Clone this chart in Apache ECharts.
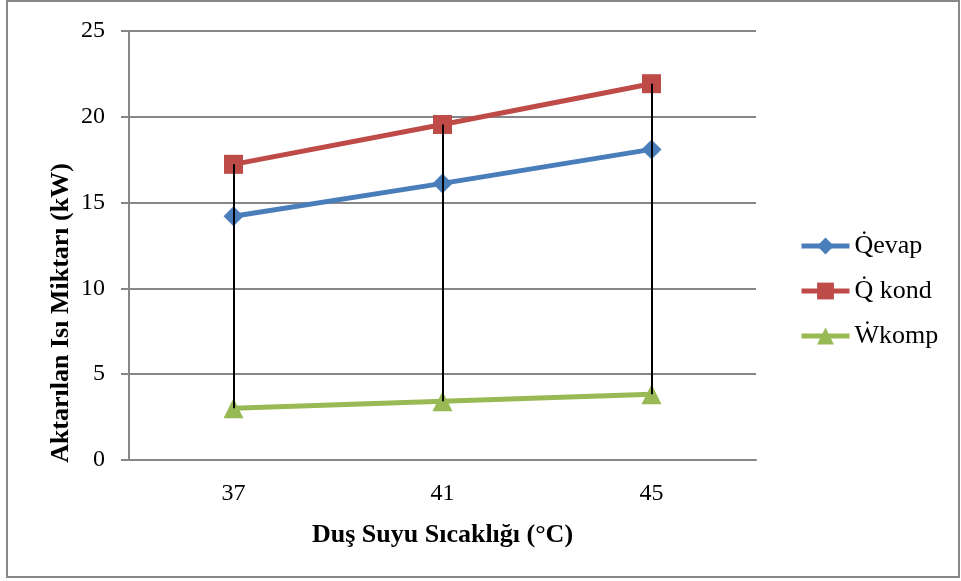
<!DOCTYPE html>
<html>
<head>
<meta charset="utf-8">
<script src="https://cdn.jsdelivr.net/npm/echarts@6/dist/echarts.min.js"></script>
<style>
  html, body { margin: 0; padding: 0; background: #fff; }
  #chart { width: 961px; height: 581px; }
</style>
</head>
<body>
<div id="chart"></div>
<script>
// Shower water temperature (°C)
const categories = ['37', '41', '45'];
// Transferred heat / work (kW)
const qEvap = [14.2, 16.12, 18.1];
const qKond = [17.23, 19.55, 21.93];
const wKomp = [3.02, 3.42, 3.83];
const seriesNames = ['Q\u0307evap', 'Q\u0307 kond', 'W\u0307komp'];
const yTitle = 'Aktarılan Isı Miktarı (kW)';
const xTitle = 'Duş Suyu Sıcaklığı (°C)';

const FONT = '"Liberation Serif", "DejaVu Serif", serif';

// High-low lines between the top and bottom series at each temperature
const dropLines = categories.map((c, i) => [
  { coord: [i, wKomp[i]] },
  { coord: [i, qKond[i]] }
]);

const chart = echarts.init(document.getElementById('chart'), null, { renderer: 'canvas' });
chart.setOption({
  animation: false,
  backgroundColor: '#fff',
  graphic: [
    {
      type: 'rect',
      shape: { x: 7, y: 1, width: 952, height: 576 },
      style: { fill: 'none', stroke: '#888', lineWidth: 2 },
      silent: true
    },
    {
      // vertical axis title, set a little below the plot's middle
      type: 'text',
      x: 61,
      y: 313,
      rotation: Math.PI / 2,
      style: {
        text: yTitle,
        fontFamily: FONT,
        fontSize: 26,
        fontWeight: 'bold',
        fill: '#000',
        align: 'center',
        verticalAlign: 'middle'
      },
      silent: true
    }
  ],
  grid: { left: 129, right: 205, top: 31, bottom: 121 },
  legend: {
    orient: 'vertical',
    left: 794,
    top: 228,
    itemGap: 19,
    itemWidth: 48,
    itemHeight: 21,
    data: seriesNames,
    lineStyle: { width: 5 },
    textStyle: { fontFamily: FONT, fontSize: 26, color: '#000' }
  },
  xAxis: {
    type: 'category',
    data: categories,
    boundaryGap: true,
    name: xTitle,
    nameLocation: 'middle',
    nameGap: 62,
    nameTextStyle: { fontFamily: FONT, fontSize: 26, fontWeight: 'bold', color: '#000' },
    axisLine: { lineStyle: { color: '#868686', width: 2 } },
    axisTick: { show: false },
    axisLabel: { fontFamily: FONT, fontSize: 24, color: '#000', margin: 22 }
  },
  yAxis: {
    type: 'value',
    min: 0,
    max: 25,
    interval: 5,
    axisLine: { show: true, lineStyle: { color: '#868686', width: 2 } },
    axisTick: { show: true, length: 8, lineStyle: { color: '#868686', width: 2 } },
    axisLabel: { fontFamily: FONT, fontSize: 24, color: '#000', margin: 24 },
    splitLine: { lineStyle: { color: '#868686', width: 2 } }
  },
  series: [
    {
      name: seriesNames[0],
      type: 'line',
      data: qEvap,
      symbol: 'diamond',
      symbolSize: 20,
      lineStyle: { color: '#4a7ebb', width: 5 },
      itemStyle: { color: '#4a7ebb' },
      z: 3
    },
    {
      name: seriesNames[1],
      type: 'line',
      data: qKond,
      symbol: 'rect',
      symbolSize: 19,
      lineStyle: { color: '#be4b48', width: 5 },
      itemStyle: { color: '#be4b48' },
      z: 3
    },
    {
      name: seriesNames[2],
      type: 'line',
      data: wKomp,
      symbol: 'triangle',
      symbolSize: 20,
      lineStyle: { color: '#98b954', width: 5 },
      itemStyle: { color: '#98b954' },
      z: 3,
      markLine: {
        silent: true,
        symbol: ['none', 'none'],
        label: { show: false },
        lineStyle: { color: '#000', width: 2, type: 'solid' },
        data: dropLines,
        z: 5
      }
    }
  ]
});
</script>
</body>
</html>
